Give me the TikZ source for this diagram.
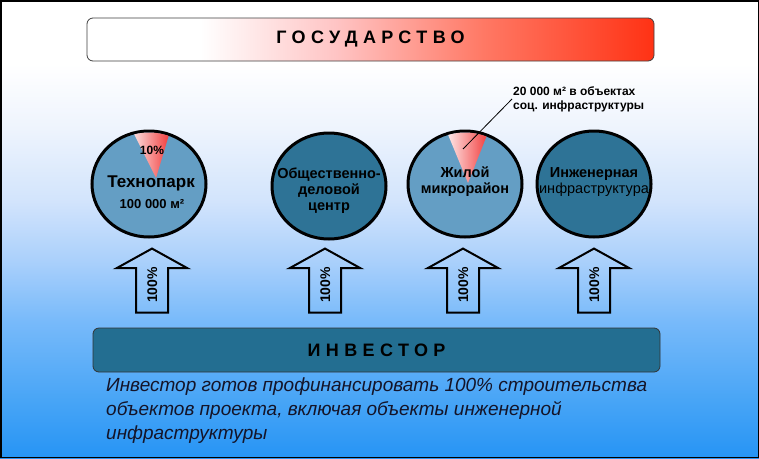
\documentclass[tikz,border=0pt]{standalone}
\usepackage{fontspec}
\setmainfont{Liberation Sans}
\newfontfamily\spacedfont[LetterSpace=30]{Liberation Sans}
\usetikzlibrary{shapes.geometric,shapes.arrows}

\definecolor{bgB}{RGB}{38,148,245}
\definecolor{bgC}{RGB}{70,164,246}
\definecolor{bgD}{RGB}{120,186,250}
\definecolor{bgE}{RGB}{170,208,251}
\definecolor{bgF}{RGB}{210,228,252}
\definecolor{bgG}{RGB}{238,244,253}
\definecolor{gosPink}{RGB}{255,196,196}
\definecolor{gosMid}{RGB}{255,120,100}
\definecolor{gosRed}{RGB}{255,50,20}
\definecolor{circLight}{RGB}{100,158,196}
\definecolor{circDark}{RGB}{46,115,150}
\definecolor{invBar}{RGB}{35,110,145}
\definecolor{wedgeRed}{RGB}{240,40,40}
\definecolor{textDark}{RGB}{20,20,40}

\pgfdeclareverticalshading{bgshade}{100bp}{color(0bp)=(bgB); color(25bp)=(bgB); color(31bp)=(bgC); color(40bp)=(bgD); color(46.5bp)=(bgE); color(53bp)=(bgF); color(61bp)=(bgG); color(68bp)=(white); color(100bp)=(white)}
\pgfdeclarehorizontalshading{gosshade}{100bp}{color(0bp)=(white); color(35bp)=(white); color(47bp)=(gosPink); color(60bp)=(gosMid); color(75bp)=(gosRed); color(100bp)=(gosRed)}

\begin{document}
\begin{tikzpicture}[x=1pt,y=-1pt,
  bigbar/.style={rounded corners=6, minimum width=567, minimum height=43, inner sep=0},
  bubble/.style={ellipse, draw=black, line width=3, minimum width=114, minimum height=106, inner sep=0},
  wedge/.style={left color=white, right color=wedgeRed},
  bigtext/.style={font=\bfseries\fontsize{17}{19}\selectfont},
  midtext/.style={font=\bfseries\fontsize{13}{15}\selectfont},
  circtext/.style={align=center, font=\bfseries\fontsize{14.5}{16}\selectfont},
  smalltext/.style={font=\bfseries\fontsize{12}{14}\selectfont},
  arrowbox/.style={single arrow, draw=black, line width=2, rotate=90,
    single arrow head extend=19.5, single arrow tip angle=122,
    minimum height=64, text height=10, text depth=0, inner ysep=10, inner xsep=4,
    font=\bfseries\fontsize{14}{16}\selectfont},
  titletext/.style={font=\spacedfont\bfseries\fontsize{18}{20}\selectfont}
]
\useasboundingbox (0,0) rectangle (759,458);
\shade[shading=bgshade] (0,0) rectangle (759,458);
\draw[line width=1.5] (0.75,0.75) rectangle (758.25,457.25);

% State bar
\node[bigbar, draw=black!75, line width=0.8, shading=gosshade, titletext] (gos) at (370.5,39.5) {ГОСУДАРСТВО};

% Circles
\node[bubble, fill=circLight] (c1) at (149,184) {};
\node[bubble, fill=circDark] (c2) at (329,186) {};
\node[bubble, fill=circLight] (c3) at (465,184) {};
\node[bubble, fill=circDark] (c4) at (594,184) {};

% Wedges
\begin{scope}
  \clip (c1.center) ellipse [x radius=55.5, y radius=51.5];
  \shade[wedge] (156,178) -- (126,118) -- (174,118) -- cycle;
\end{scope}
\begin{scope}
  \clip (c3.center) ellipse [x radius=55.5, y radius=51.5];
  \shade[wedge] (468,183) -- (442,120) -- (493,120) -- cycle;
\end{scope}

% Circle texts
\node[smalltext] (p1) at (152,150) {10\%};
\node[bigtext] (t1a) at (151,183) {Технопарк};
\node[midtext] (t1b) at (152,204) {100 000 м²};
\node[circtext] (t2) at (329,191) {Общественно-\\деловой\\центр};
\node[circtext] (t3) at (465,182) {Жилой\\микрорайон};
\node[circtext, font=\fontsize{14.5}{16}\selectfont] (t4) at (594,182) {{\bfseries Инженерная}\\инфраструктура};

% Leader label
\node[smalltext, align=left, anchor=west, inner sep=1] (lab) at (512,99) {20 000 м² в объектах\\соц. инфраструктуры};
\coordinate (w3) at (463,149);
\draw[line width=0.8] (w3) -- (lab.west);

% Arrows
\node[arrowbox] (a1) at (152,285) {100\%};
\node[arrowbox] (a2) at (325,285) {100\%};
\node[arrowbox] (a3) at (463,285) {100\%};
\node[arrowbox] (a4) at (594,285) {100\%};

% Investor bar
\node[bigbar, draw=black!80, line width=0.8, fill=invBar, minimum height=44, titletext] (inv) at (376.5,350) {ИНВЕСТОР};

% Note
\node[anchor=north west, align=left, inner sep=0, text=textDark, font=\itshape\fontsize{19}{24}\selectfont] (note) at (106,378) {Инвестор готов профинансировать 100\% строительства\\объектов проекта, включая объекты инженерной\\инфраструктуры};
\end{tikzpicture}
\end{document}
